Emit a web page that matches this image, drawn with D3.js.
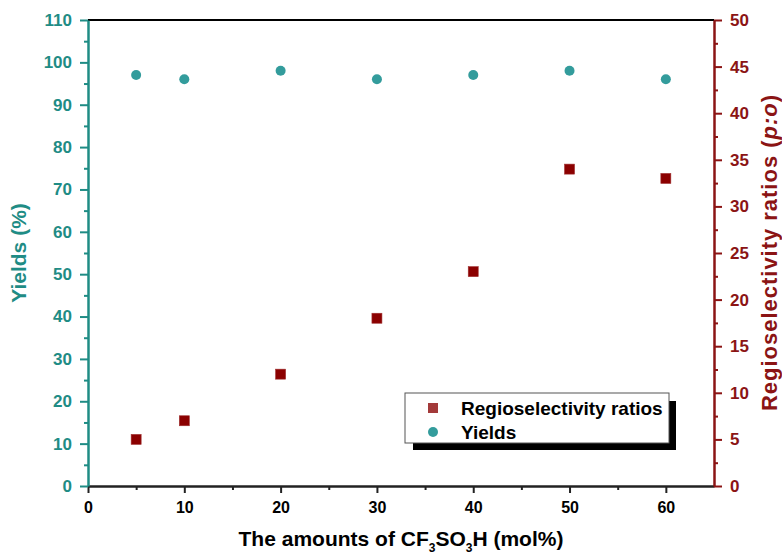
<!DOCTYPE html>
<html><head><meta charset="utf-8">
<script src="https://cdn.jsdelivr.net/npm/d3@7"></script>
<style>body{margin:0;background:#fff}svg{display:block;font-family:"Liberation Sans",Arial,sans-serif;font-weight:bold}</style>
</head><body>
<script>
const amounts = [5, 10, 20, 30, 40, 50, 60];
const yields = [97, 96, 98, 96, 97, 98, 96];
const ratios = [5, 7, 12, 18, 23, 34, 33];
const xTicks = [0, 10, 20, 30, 40, 50, 60];
const yLeftTicks = [0, 10, 20, 30, 40, 50, 60, 70, 80, 90, 100, 110];
const yRightTicks = [0, 5, 10, 15, 20, 25, 30, 35, 40, 45, 50];
const legendLabels = ["Regioselectivity ratios", "Yields"];

const W = 782, H = 556;
const teal = "#1f8c85", tealPt = "#339c9c", red = "#8b1414", redPt = "#8b0000";
const svg = d3.select("body").append("svg").attr("width", W).attr("height", H);
const L = 88, R = 714, T = 20, B = 486;
const x = d3.scaleLinear().domain([0, 65]).range([L, R]);
const yL = d3.scaleLinear().domain([0, 110]).range([B, T]);
const yR = d3.scaleLinear().domain([0, 50]).range([B, T]);

// top frame line
svg.append("line").attr("x1", L).attr("x2", R).attr("y1", T).attr("y2", T).attr("stroke", "#000").attr("stroke-width", 2);

function styleAxis(g, color, size) {
  g.select(".domain").attr("stroke", color).attr("stroke-width", 2.5);
  g.selectAll(".tick line").attr("stroke", color).attr("stroke-width", 2);
  g.selectAll(".tick text").attr("fill", color).attr("font-size", size).attr("font-weight", "bold");
}
// minor ticks
const minorX = d3.range(5, 65, 10);
svg.append("g").attr("transform", `translate(0,${B})`).call(d3.axisBottom(x).tickValues(minorX).tickSize(4).tickFormat("").tickSizeOuter(0))
  .call(g => { g.select(".domain").remove(); g.selectAll("line").attr("stroke", "#222").attr("stroke-width", 2); });
svg.append("g").attr("transform", `translate(${L},0)`).call(d3.axisLeft(yL).tickValues(d3.range(5, 110, 10)).tickSize(4).tickFormat("").tickSizeOuter(0))
  .call(g => { g.select(".domain").remove(); g.selectAll("line").attr("stroke", teal).attr("stroke-width", 2); });
svg.append("g").attr("transform", `translate(${R},0)`).call(d3.axisRight(yR).tickValues(d3.range(2.5, 50, 5)).tickSize(4).tickFormat("").tickSizeOuter(0))
  .call(g => { g.select(".domain").remove(); g.selectAll("line").attr("stroke", red).attr("stroke-width", 2); });

const gx = svg.append("g").attr("transform", `translate(0,${B})`)
  .call(d3.axisBottom(x).tickValues(xTicks).tickSize(7).tickSizeOuter(0).tickPadding(9));
styleAxis(gx, "#222", 16);
gx.selectAll(".tick text").attr("fill", "#000");
const gl = svg.append("g").attr("transform", `translate(${L},0)`)
  .call(d3.axisLeft(yL).tickValues(yLeftTicks).tickSize(8).tickSizeOuter(0).tickPadding(8));
styleAxis(gl, teal, 17);
const gr = svg.append("g").attr("transform", `translate(${R},0)`)
  .call(d3.axisRight(yR).tickValues(yRightTicks).tickSize(8).tickSizeOuter(0).tickPadding(8));
styleAxis(gr, red, 17);

// data points
svg.append("g").selectAll("circle").data(amounts).join("circle")
  .attr("cx", (d) => x(d)).attr("cy", (d, i) => yL(yields[i])).attr("r", 5).attr("fill", tealPt);
svg.append("g").selectAll("rect").data(amounts).join("rect")
  .attr("x", d => x(d) - 5).attr("y", (d, i) => yR(ratios[i]) - 5).attr("width", 10).attr("height", 10)
  .attr("fill", redPt).attr("stroke", "#a03030").attr("stroke-width", 0.6);

// axis titles
const xt = svg.append("text").attr("x", 401).attr("y", 546).attr("text-anchor", "middle").attr("font-size", 21).attr("fill", "#000");
xt.append("tspan").text("The amounts of CF");
xt.append("tspan").text("3").attr("font-size", 12).attr("dy", 6);
xt.append("tspan").text("SO").attr("dy", -6);
xt.append("tspan").text("3").attr("font-size", 12).attr("dy", 6);
xt.append("tspan").text("H (mol%)").attr("dy", -6);

svg.append("text").attr("transform", `translate(26,253) rotate(-90)`).attr("text-anchor", "middle")
  .attr("font-size", 21).attr("fill", teal).text("Yields (%)");
const rt = svg.append("text").attr("transform", `translate(777,253) rotate(-90)`).attr("x", -158)
  .attr("font-size", 22).attr("textLength", 316).attr("lengthAdjust", "spacing").attr("fill", red);
rt.append("tspan").text("Regioselectivity ratios (");
rt.append("tspan").text("p:o").attr("font-style", "italic");
rt.append("tspan").text(")");

// legend
const lg = svg.append("g");
lg.append("rect").attr("x", 413).attr("y", 401).attr("width", 263).attr("height", 49).attr("fill", "#000");
lg.append("rect").attr("x", 405).attr("y", 393).attr("width", 264).attr("height", 50).attr("fill", "#fff").attr("stroke", "#555").attr("stroke-width", 1);
lg.append("rect").attr("x", 428).attr("y", 403).attr("width", 10).attr("height", 10).attr("fill", "#a33a3a");
lg.append("circle").attr("cx", 433).attr("cy", 432).attr("r", 5).attr("fill", tealPt);
lg.selectAll("text").data(legendLabels).join("text")
  .attr("x", 461).attr("y", (d, i) => 415 + i * 24).attr("font-size", 19).attr("fill", "#000").text(d => d);
</script>
</body></html>
